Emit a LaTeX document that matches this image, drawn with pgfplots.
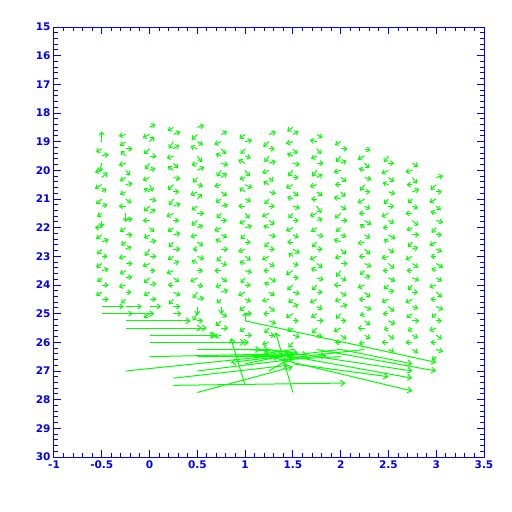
\documentclass[border=0pt]{standalone}
\usepackage{pgfplots}
\pgfplotsset{compat=1.18}
\usepackage{pgfplotstable}
\usepackage{fontspec}
\setmainfont{DejaVu Sans}
\usetikzlibrary{arrows.meta}
\definecolor{pgblue}{RGB}{0,0,255}
\definecolor{pggreen}{RGB}{0,255,0}

\pgfplotstableread{
x y u v
-0.5 19.00 0.00 -0.30
-0.5 19.25 -0.05 0.10
-0.5 19.50 0.06 -0.05
-0.5 19.75 -0.02 0.25
-0.5 20.00 -0.06 0.05
-0.5 20.25 0.05 -0.15
-0.5 20.50 -0.06 0.12
-0.5 20.75 0.04 -0.10
-0.5 21.00 -0.05 0.15
-0.5 21.25 0.05 -0.05
-0.5 21.50 -0.04 0.10
-0.5 21.75 0.00 0.20
-0.5 22.00 -0.06 0.00
-0.5 22.25 -0.05 0.12
-0.5 22.50 0.06 -0.08
-0.5 22.75 -0.04 0.15
-0.5 23.00 0.05 0.00
-0.5 23.25 -0.05 0.12
-0.5 23.50 0.06 -0.05
-0.5 23.75 -0.04 0.12
-0.5 24.00 0.06 0.00
-0.5 24.25 -0.05 0.10
-0.5 24.50 0.06 0.00
-0.5 24.75 0.19 0.00
-0.25 18.75 -0.06 0.05
-0.25 19.00 -0.05 0.12
-0.25 19.25 0.06 0.00
-0.25 19.50 -0.04 -0.15
-0.25 19.75 -0.06 0.06
-0.25 20.00 0.04 0.15
-0.25 20.25 -0.05 0.10
-0.25 20.50 0.06 -0.04
-0.25 20.75 -0.05 0.08
-0.25 21.00 0.05 0.12
-0.25 21.25 -0.06 0.00
-0.25 21.50 0.00 0.25
-0.25 21.75 0.06 -0.06
-0.25 22.00 -0.05 0.12
-0.25 22.25 0.06 0.00
-0.25 22.50 -0.04 0.10
-0.25 22.75 0.05 -0.08
-0.25 23.00 -0.06 0.05
-0.25 23.25 0.06 0.00
-0.25 23.50 -0.05 0.10
-0.25 23.75 0.06 -0.03
-0.25 24.00 -0.06 0.06
-0.25 24.25 0.05 0.00
-0.25 24.50 -0.04 0.12
-0.25 24.75 0.14 0.00
-0.25 25.00 0.06 0.00
0 18.50 0.05 -0.10
0 18.75 -0.06 0.10
0 19.00 0.04 -0.15
0 19.25 -0.05 0.15
0 19.50 0.06 0.00
0 19.75 -0.04 0.18
0 20.00 0.05 -0.06
0 20.25 -0.06 0.08
0 20.50 0.03 0.20
0 20.75 -0.05 -0.10
0 21.00 0.06 0.05
0 21.25 -0.05 0.15
0 21.50 0.05 -0.12
0 21.75 -0.06 0.00
0 22.00 0.04 0.12
0 22.25 -0.05 0.10
0 22.50 0.06 -0.04
0 22.75 -0.04 0.20
0 23.00 0.06 0.00
0 23.25 -0.06 0.08
0 23.50 0.05 0.00
0 23.75 -0.05 0.15
0 24.00 0.06 -0.05
0 24.25 -0.05 0.10
0 24.50 0.06 0.00
0 24.75 0.10 0.00
0 25.00 -0.05 0.12
0.25 18.50 -0.05 0.10
0.25 18.75 0.06 -0.08
0.25 19.00 -0.04 0.20
0.25 19.25 0.05 -0.12
0.25 19.50 -0.06 0.06
0.25 19.75 0.04 0.15
0.25 20.00 -0.05 -0.12
0.25 20.25 0.06 0.04
0.25 20.50 -0.05 0.15
0.25 20.75 0.05 0.00
0.25 21.00 -0.04 0.18
0.25 21.25 0.06 -0.08
0.25 21.50 -0.06 0.10
0.25 21.75 0.05 0.00
0.25 22.00 -0.05 0.12
0.25 22.25 0.06 -0.05
0.25 22.50 -0.04 0.15
0.25 22.75 0.06 0.00
0.25 23.00 -0.05 0.10
0.25 23.25 0.05 -0.06
0.25 23.50 -0.06 0.08
0.25 23.75 0.05 0.12
0.25 24.00 -0.05 0.00
0.25 24.25 0.06 0.10
0.25 24.50 -0.04 0.15
0.25 24.75 0.06 0.00
0.25 25.00 0.07 0.00
0.5 18.50 0.06 -0.06
0.5 18.75 -0.05 0.15
0.5 19.00 0.05 0.10
0.5 19.25 -0.06 -0.08
0.5 19.50 0.04 0.18
0.5 19.75 -0.05 0.06
0.5 20.00 0.06 -0.10
0.5 20.25 -0.04 0.15
0.5 20.50 0.05 0.05
0.5 20.75 -0.06 0.10
0.5 21.00 0.04 -0.15
0.5 21.25 -0.05 0.12
0.5 21.50 0.06 0.00
0.5 21.75 -0.05 0.15
0.5 22.00 0.05 -0.08
0.5 22.25 -0.06 0.06
0.5 22.50 0.05 0.12
0.5 22.75 -0.04 0.00
0.5 23.00 0.06 0.08
0.5 23.25 -0.05 -0.10
0.5 23.50 0.05 0.00
0.5 23.75 -0.06 0.12
0.5 24.00 0.05 0.05
0.5 24.25 -0.04 0.18
0.5 24.50 0.06 -0.05
0.5 24.75 0.00 0.25
0.5 25.00 -0.04 0.20
0.5 25.25 0.05 0.00
0.75 18.75 0.05 -0.10
0.75 19.00 -0.06 0.08
0.75 19.25 0.04 0.15
0.75 19.50 -0.05 -0.06
0.75 19.75 0.06 0.06
0.75 20.00 -0.04 0.18
0.75 20.25 0.05 -0.12
0.75 20.50 -0.06 0.05
0.75 20.75 0.05 0.12
0.75 21.00 -0.05 0.10
0.75 21.25 0.06 -0.04
0.75 21.50 -0.04 0.15
0.75 21.75 0.05 0.00
0.75 22.00 -0.06 0.10
0.75 22.25 0.05 0.08
0.75 22.50 -0.05 -0.08
0.75 22.75 0.06 0.00
0.75 23.00 -0.04 0.15
0.75 23.25 0.05 0.05
0.75 23.50 -0.06 0.00
0.75 23.75 0.05 0.12
0.75 24.00 -0.05 0.06
0.75 24.25 0.06 -0.06
0.75 24.50 -0.04 0.12
0.75 24.75 0.00 0.22
0.75 25.00 0.05 0.10
0.75 25.25 -0.05 0.15
0.75 25.50 0.06 0.00
0.75 25.75 -0.06 0.05
1.0 18.75 -0.05 0.12
1.0 19.00 0.06 -0.05
1.0 19.25 -0.04 0.15
1.0 19.50 0.05 0.06
1.0 19.75 -0.06 -0.10
1.0 20.00 0.04 0.18
1.0 20.25 -0.05 0.05
1.0 20.50 0.06 0.10
1.0 20.75 -0.05 -0.12
1.0 21.00 0.05 0.08
1.0 21.25 -0.06 0.00
1.0 21.50 0.04 0.15
1.0 21.75 -0.05 0.10
1.0 22.00 0.06 -0.06
1.0 22.25 -0.04 0.12
1.0 22.50 0.05 0.00
1.0 22.75 -0.06 0.08
1.0 23.00 0.05 0.12
1.0 23.25 -0.05 -0.06
1.0 23.50 0.06 0.05
1.0 23.75 -0.04 0.15
1.0 24.00 0.05 0.00
1.0 24.25 -0.06 0.10
1.0 24.50 0.05 0.06
1.0 24.75 -0.05 0.12
1.0 25.00 0.06 0.00
1.0 25.25 0.00 -0.25
1.0 25.50 -0.05 0.10
1.0 25.75 0.06 0.00
1.25 18.75 0.06 -0.08
1.25 19.00 -0.05 0.15
1.25 19.25 0.05 0.00
1.25 19.50 -0.04 0.18
1.25 19.75 0.06 -0.06
1.25 20.00 -0.06 0.08
1.25 20.25 0.04 0.12
1.25 20.50 -0.05 -0.10
1.25 20.75 0.06 0.05
1.25 21.00 -0.04 0.15
1.25 21.25 0.05 0.00
1.25 21.50 -0.06 0.10
1.25 21.75 0.05 0.12
1.25 22.00 -0.05 -0.06
1.25 22.25 0.06 0.06
1.25 22.50 -0.04 0.15
1.25 22.75 0.05 0.00
1.25 23.00 -0.06 0.10
1.25 23.25 0.05 0.08
1.25 23.50 -0.05 0.00
1.25 23.75 0.06 0.12
1.25 24.00 -0.04 -0.08
1.25 24.25 0.05 0.10
1.25 24.50 -0.06 0.05
1.25 24.75 0.05 0.15
1.25 25.00 -0.05 0.00
1.25 25.25 0.06 0.08
1.25 25.50 -0.04 0.15
1.25 25.75 0.05 0.00
1.25 26.00 -0.06 0.06
1.5 18.50 -0.05 0.12
1.5 18.75 0.05 -0.10
1.5 19.00 -0.06 0.06
1.5 19.25 0.04 0.15
1.5 19.50 -0.05 -0.08
1.5 19.75 0.06 0.05
1.5 20.00 -0.04 0.18
1.5 20.25 0.05 0.00
1.5 20.50 -0.06 0.10
1.5 20.75 0.05 0.12
1.5 21.00 -0.05 -0.06
1.5 21.25 0.06 0.06
1.5 21.50 -0.04 0.15
1.5 21.75 0.05 0.00
1.5 22.00 -0.06 0.10
1.5 22.25 0.05 0.08
1.5 22.50 -0.05 0.00
1.5 22.75 0.06 0.12
1.5 23.00 -0.04 -0.10
1.5 23.25 0.05 0.06
1.5 23.50 -0.06 0.12
1.5 23.75 0.05 0.00
1.5 24.00 -0.05 0.15
1.5 24.25 0.06 0.05
1.5 24.50 -0.04 0.10
1.5 24.75 0.05 -0.06
1.5 25.00 -0.06 0.12
1.5 25.25 0.05 0.00
1.5 25.50 -0.05 0.10
1.5 25.75 0.06 0.06
1.5 26.00 -0.04 0.15
1.75 18.75 0.05 0.10
1.75 19.00 -0.06 -0.05
1.75 19.25 0.04 0.15
1.75 19.50 -0.05 0.08
1.75 19.75 0.06 0.00
1.75 20.00 -0.04 0.18
1.75 20.25 0.05 -0.10
1.75 20.50 -0.06 0.06
1.75 20.75 0.05 0.12
1.75 21.00 -0.05 0.00
1.75 21.25 0.04 0.20
1.75 21.50 -0.06 0.08
1.75 21.75 0.05 -0.06
1.75 22.00 -0.05 0.12
1.75 22.25 0.06 0.05
1.75 22.50 -0.04 0.15
1.75 22.75 0.05 0.00
1.75 23.00 -0.06 0.10
1.75 23.25 0.05 0.12
1.75 23.50 -0.05 -0.08
1.75 23.75 0.06 0.06
1.75 24.00 -0.04 0.15
1.75 24.25 0.05 0.00
1.75 24.50 -0.06 0.10
1.75 24.75 0.05 0.08
1.75 25.00 -0.05 0.12
1.75 25.25 0.06 0.00
1.75 25.50 -0.04 0.15
1.75 25.75 0.05 0.05
2.0 19.00 -0.05 0.10
2.0 19.25 0.06 0.00
2.0 19.50 -0.04 0.18
2.0 19.75 0.05 -0.08
2.0 20.00 -0.06 0.06
2.0 20.25 0.05 0.12
2.0 20.50 -0.05 0.00
2.0 20.75 0.04 0.15
2.0 21.00 -0.06 -0.06
2.0 21.25 0.05 0.10
2.0 21.50 -0.05 0.15
2.0 21.75 0.06 0.00
2.0 22.00 -0.04 0.12
2.0 22.25 0.05 0.06
2.0 22.50 -0.06 -0.08
2.0 22.75 0.05 0.15
2.0 23.00 -0.05 0.05
2.0 23.25 0.06 0.00
2.0 23.50 -0.04 0.18
2.0 23.75 0.05 0.08
2.0 24.00 -0.06 0.00
2.0 24.25 0.05 0.12
2.0 24.50 -0.05 0.06
2.0 24.75 0.06 -0.05
2.0 25.00 -0.04 0.15
2.0 25.25 0.05 0.00
2.0 25.50 -0.06 0.10
2.0 25.75 0.05 0.12
2.0 26.00 -0.05 0.00
2.25 19.25 0.05 0.05
2.25 19.50 -0.06 0.10
2.25 19.75 0.04 0.15
2.25 20.00 -0.05 -0.06
2.25 20.25 0.06 0.06
2.25 20.50 -0.04 0.18
2.25 20.75 0.05 0.00
2.25 21.00 -0.06 0.12
2.25 21.25 0.05 0.08
2.25 21.50 -0.05 0.00
2.25 21.75 0.06 0.12
2.25 22.00 -0.04 -0.10
2.25 22.25 0.05 0.10
2.25 22.50 -0.06 0.05
2.25 22.75 0.05 0.15
2.25 23.00 -0.05 0.00
2.25 23.25 0.06 0.10
2.25 23.50 -0.04 0.12
2.25 23.75 0.05 -0.06
2.25 24.00 -0.06 0.08
2.25 24.25 0.05 0.15
2.25 24.50 -0.05 0.00
2.25 24.75 0.06 0.10
2.25 25.00 -0.04 0.06
2.25 25.25 0.05 0.12
2.25 25.50 -0.06 0.00
2.25 25.75 0.05 0.10
2.25 26.00 -0.05 0.05
2.5 19.50 -0.04 0.18
2.5 19.75 0.05 0.00
2.5 20.00 -0.06 0.10
2.5 20.25 0.05 0.12
2.5 20.50 -0.05 -0.06
2.5 20.75 0.06 0.06
2.5 21.00 -0.04 0.15
2.5 21.25 0.05 0.00
2.5 21.50 -0.06 0.10
2.5 21.75 0.05 0.08
2.5 22.00 -0.05 0.00
2.5 22.25 0.06 0.12
2.5 22.50 -0.04 -0.08
2.5 22.75 0.05 0.10
2.5 23.00 -0.06 0.06
2.5 23.25 0.05 0.15
2.5 23.50 -0.05 0.00
2.5 23.75 0.06 0.10
2.5 24.00 -0.04 0.12
2.5 24.25 0.05 -0.05
2.5 24.50 -0.06 0.08
2.5 24.75 0.05 0.15
2.5 25.00 -0.05 0.00
2.5 25.25 0.06 0.10
2.5 25.50 -0.04 0.06
2.5 25.75 0.05 0.12
2.5 26.00 -0.06 0.00
2.5 26.25 0.05 0.08
2.75 19.75 0.05 0.10
2.75 20.00 -0.06 0.05
2.75 20.25 0.04 0.18
2.75 20.50 -0.05 0.00
2.75 20.75 0.06 -0.08
2.75 21.00 -0.04 0.12
2.75 21.25 0.05 0.06
2.75 21.50 -0.06 0.00
2.75 21.75 0.05 0.15
2.75 22.00 -0.05 0.08
2.75 22.25 0.06 0.00
2.75 22.50 -0.04 0.15
2.75 22.75 0.05 -0.06
2.75 23.00 -0.06 0.10
2.75 23.25 0.05 0.12
2.75 23.50 -0.05 0.00
2.75 23.75 0.06 0.08
2.75 24.00 -0.04 0.15
2.75 24.25 0.05 0.00
2.75 24.50 -0.06 0.10
2.75 24.75 0.05 0.06
2.75 25.00 -0.05 0.12
2.75 25.25 0.06 0.00
2.75 25.50 -0.04 0.10
2.75 25.75 0.05 0.08
2.75 26.00 -0.06 0.00
2.75 26.25 0.05 0.10
3.0 20.25 0.06 -0.05
3.0 20.50 -0.05 0.15
3.0 20.75 0.05 0.00
3.0 21.00 -0.06 0.10
3.0 21.25 0.04 0.12
3.0 21.50 -0.05 -0.06
3.0 21.75 0.06 0.06
3.0 22.00 -0.04 0.15
3.0 22.25 0.05 0.00
3.0 22.50 -0.06 0.10
3.0 22.75 0.05 0.08
3.0 23.00 -0.05 0.00
3.0 23.25 0.06 0.12
3.0 23.50 -0.04 -0.08
3.0 23.75 0.05 0.10
3.0 24.00 -0.06 0.06
3.0 24.25 0.05 0.15
3.0 24.50 -0.05 0.00
3.0 24.75 0.06 0.10
3.0 25.00 -0.04 0.12
3.0 25.25 0.05 0.00
3.0 25.50 -0.06 0.08
3.0 25.75 0.05 0.12
3.0 26.00 -0.05 0.00
3.0 26.25 0.06 0.06
3.0 26.50 -0.04 0.10
}\smallvec

\pgfplotstableread{
x y u v
-0.5 25.00 0.55 0.00
-0.25 25.25 0.68 0.00
-0.25 25.50 0.85 0.00
0 25.50 0.55 0.00
0 25.75 0.68 0.00
0.25 25.75 0.45 0.00
0 26.00 1.04 0.00
0.5 26.00 0.50 0.00
0.5 26.25 0.66 0.00
0.75 26.25 0.50 0.00
0 26.50 1.45 -0.10
0.5 26.50 0.90 -0.05
-0.25 27.00 1.75 -0.60
0.25 27.25 1.20 -0.45
0.25 27.50 1.80 -0.08
0.5 27.75 1.00 -0.90
0.5 27.00 1.35 -0.55
1.0 27.50 -0.15 -1.65
1.5 27.75 -0.18 -2.10
1.0 25.25 2.00 1.45
1.75 26.25 1.25 0.75
1.75 26.50 1.00 0.50
1.5 26.50 1.25 0.75
1.5 26.75 1.00 0.45
1.25 26.50 1.50 1.20
2.0 26.25 0.75 0.50
2.0 26.25 -1.15 0.45
1.0 26.75 0.50 -0.35
1.25 27.00 0.25 -0.50
0.75 26.50 0.60 0.00
1.0 26.25 0.55 0.10
1.25 26.25 0.40 0.20
1.5 26.25 -0.30 0.15
2.0 26.50 -0.60 0.10
2.25 26.25 -0.80 0.30
}\longvec

\begin{document}
\begin{tikzpicture}
\fill[white] (-54pt,-55pt) rectangle (458pt,457pt);
\useasboundingbox (-54pt,-55pt) rectangle (458pt,457pt);
\begin{axis}[
  scale only axis,
  width=430pt, height=430pt,
  xmin=-1, xmax=3.5, ymin=15, ymax=30,
  y dir=reverse,
  xtick distance=0.5, minor x tick num=4,
  ytick distance=1, minor y tick num=4,
  xtick pos=both, ytick pos=both,
  xticklabel pos=lower, yticklabel pos=left,
  tick align=inside,
  major tick length=7pt, minor tick length=4pt,
  axis line style={pgblue, line width=1pt},
  every tick/.style={pgblue, line width=1pt},
  ticklabel style={text=pgblue, font=\fontsize{10.5}{11}\selectfont\bfseries},
  /pgf/number format/assume math mode=true,
  /pgf/number format/fixed,
  clip=true,
]
\addplot[pggreen, line width=1pt, -{Straight Barb[length=3pt,width=5pt]},
  quiver={u=\thisrow{u}, v=\thisrow{v}, scale arrows=1.2}] table[x=x, y=y] {\smallvec};
\addplot[pggreen, line width=1pt, -{Straight Barb[length=4pt,width=6pt]},
  quiver={u=\thisrow{u}, v=\thisrow{v}}] table[x=x, y=y] {\longvec};
\end{axis}
\end{tikzpicture}
\end{document}
